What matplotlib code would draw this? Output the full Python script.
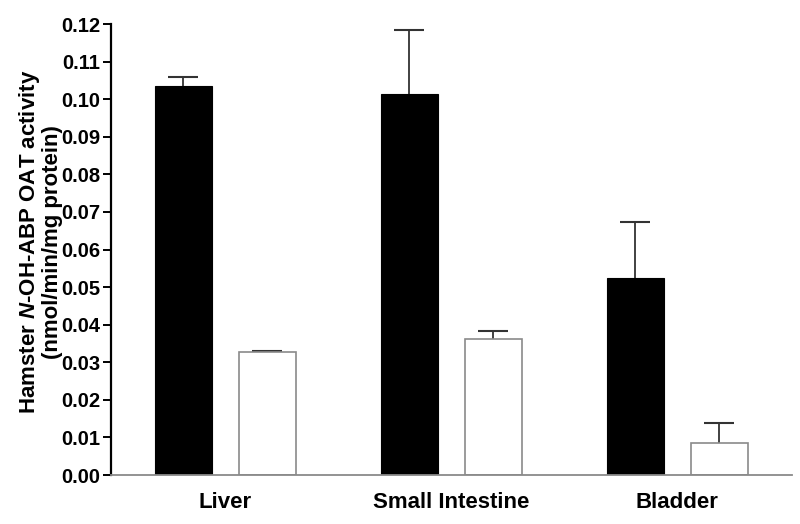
import numpy as np
import matplotlib
matplotlib.use("Agg")
import matplotlib.pyplot as plt

# Data
tissues = ["Liver", "Small Intestine", "Bladder"]
black_vals = [0.1035, 0.1015, 0.0523]
black_err = [0.0023, 0.0169, 0.0150]
white_vals = [0.0327, 0.0362, 0.0085]
white_err = [0.0003, 0.0021, 0.0053]
yticks = [0.00, 0.01, 0.02, 0.03, 0.04, 0.05, 0.06, 0.07, 0.08, 0.09, 0.10, 0.11, 0.12]

plt.rcParams["font.family"] = ["Liberation Sans", "DejaVu Sans"]
plt.rcParams["font.weight"] = "bold"
plt.rcParams["mathtext.fontset"] = "custom"
plt.rcParams["mathtext.bfit"] = "Liberation Sans:italic:bold"
plt.rcParams["mathtext.it"] = "Liberation Sans:italic:bold"

fig = plt.figure(figsize=(8, 5.24), dpi=100)
ax = fig.add_axes([0.139, 0.0935, 0.851, 0.8605])

x = np.arange(len(tissues))
offset = 0.186
width = 0.252

ax.bar(x - offset, black_vals, width, color="black", edgecolor="black", linewidth=0.8, zorder=2)
ax.bar(x + offset, white_vals, width, color="white", edgecolor="#8a8a8a", linewidth=1.2, zorder=2)

# upper-only error bars, drop the lower caps
for pos, vals, errs in [(x - offset, black_vals, black_err), (x + offset, white_vals, white_err)]:
    eb = ax.errorbar(pos, vals, yerr=[[0] * 3, errs], fmt="none",
                     ecolor="#333333", elinewidth=1.3, capsize=10.5, capthick=1.5, zorder=1)
    eb[1][0].set_visible(False)

ax.set_xlim(-0.504, 2.507)
ax.set_ylim(0, 0.12)
ax.set_yticks(yticks)
ax.set_yticklabels([f"{t:.2f}" for t in yticks])
ax.set_xticks(x)
ax.set_xticklabels(tissues)

ax.spines["top"].set_visible(False)
ax.spines["right"].set_visible(False)
ax.spines["left"].set_linewidth(1.6)
ax.spines["left"].set_color("black")
ax.spines["bottom"].set_linewidth(1.3)
ax.spines["bottom"].set_color("#8a8a8a")

ax.tick_params(axis="y", direction="out", length=6, width=1.4, labelsize=14.5, pad=2)
ax.tick_params(axis="x", length=0, labelsize=16, pad=12)
for lbl in ax.get_yticklabels() + ax.get_xticklabels():
    lbl.set_fontweight("bold")

fig.text(0.05, 0.538, "Hamster $\\mathbfit{N}$-OH-ABP OAT activity\n(nmol/min/mg protein)",
         rotation=90, ha="center", va="center", fontsize=16, fontweight="bold",
         linespacing=1.05, multialignment="center")

fig.savefig("out.png", dpi=100, facecolor="white")
